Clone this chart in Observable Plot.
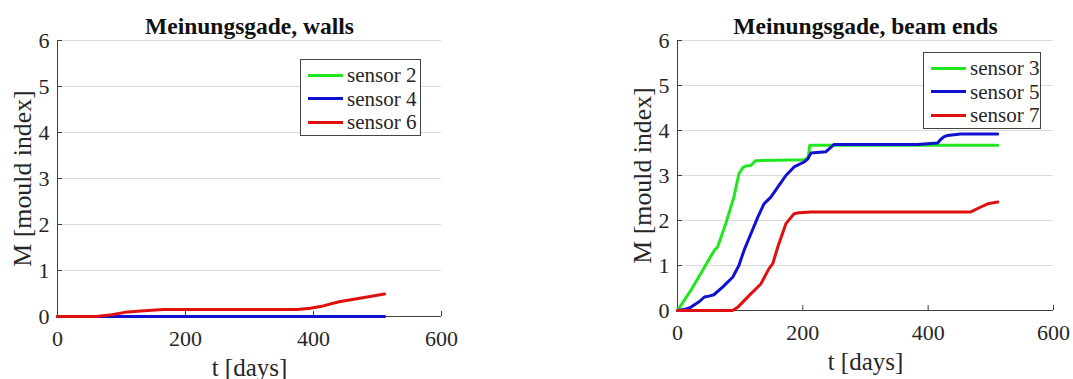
<!DOCTYPE html>
<html>
<head>
<meta charset="utf-8">
<script src="https://cdn.jsdelivr.net/npm/d3@7"></script>
<script src="https://cdn.jsdelivr.net/npm/@observablehq/plot@0.6"></script>
<style>
  html, body { margin: 0; padding: 0; background: #fff; }
  #wrap { position: relative; width: 1073px; height: 379px; overflow: hidden; background: #fff; font-family: "Liberation Serif", "Times New Roman", serif; }
  .panel { position: absolute; top: 0; }
  .legend { position: absolute; background: #fff; border: 1px solid #444; box-sizing: border-box; }
  .legend .row { position: absolute; left: 0; height: 24px; display: flex; align-items: center; }
  .legend .sw { width: 35px; height: 3px; margin-left: 7px; margin-right: 4px; }
  .legend .lbl { font-family: "Liberation Serif", serif; font-size: 21px; color: #262626; line-height: 24px; white-space: nowrap; }
</style>
</head>
<body>
<div id="wrap"></div>
<script>
// ---------- data ----------
const xTicks = [0, 200, 400, 600];
const yTicks = [0, 1, 2, 3, 4, 5, 6];
const titleWalls = "Meinungsgade, walls";
const titleBeams = "Meinungsgade, beam ends";
const xLabel = "t [days]";
const yLabel = "M [mould index]";

// walls
const s2Name = "sensor 2";
const s2T = [0, 511];
const s2M = [0, 0];
const s4Name = "sensor 4";
const s4T = [0, 511];
const s4M = [0, 0];
const s6Name = "sensor 6";
const s6T = [0, 60, 85, 105, 130, 165, 375, 395, 415, 440, 470, 511];
const s6M = [0, 0, 0.04, 0.09, 0.12, 0.15, 0.15, 0.18, 0.23, 0.32, 0.39, 0.49];

// beam ends
const s3Name = "sensor 3";
const s3T = [0, 21, 43, 55, 60, 64, 77, 90, 98, 104, 109, 117, 120, 125, 202, 208, 210, 211, 511];
const s3M = [0, 0.44, 0.96, 1.25, 1.36, 1.41, 1.93, 2.52, 3.04, 3.17, 3.21, 3.22, 3.27, 3.33, 3.35, 3.38, 3.55, 3.67, 3.67];
const s5Name = "sensor 5";
const s5T = [0, 10, 21, 35, 43, 50, 58, 72, 88, 98, 106, 117, 128, 138, 149, 160, 173, 186, 202, 208, 213, 237, 245, 250, 383, 415, 420, 425, 431, 452, 511];
const s5M = [0, 0.02, 0.07, 0.2, 0.30, 0.32, 0.35, 0.52, 0.74, 1.0, 1.33, 1.70, 2.07, 2.37, 2.52, 2.74, 3.0, 3.19, 3.30, 3.37, 3.50, 3.53, 3.63, 3.69, 3.69, 3.72, 3.80, 3.86, 3.89, 3.92, 3.92];
const s7Name = "sensor 7";
const s7T = [0, 88, 96, 117, 133, 146, 152, 160, 173, 186, 194, 213, 468, 484, 495, 511];
const s7M = [0, 0, 0.07, 0.37, 0.59, 0.93, 1.04, 1.41, 1.93, 2.15, 2.17, 2.19, 2.19, 2.30, 2.37, 2.41];

const green = "#1fe61f", blue = "#1010d0", red = "#e01010";
const serif = "'Liberation Serif', 'Times New Roman', serif";

const toRows = (T, M) => T.map((t, i) => ({t, m: M[i]}));

function panel({title, series, width, marginLeft, marginRight, marginTop, marginBottom}) {
  return Plot.plot({
    width, height: 379, marginLeft, marginRight, marginTop, marginBottom,
    style: {fontFamily: serif, fontSize: "22px", color: "#262626", background: "#fff", overflow: "visible"},
    x: {domain: [0, 600]},
    y: {domain: [0, 6]},
    marks: [
      Plot.gridY(yTicks, {stroke: "#dcdcdc", strokeOpacity: 1}),
      Plot.axisX(xTicks, {tickSize: 5, dy: -5, tickPadding: 14, label: null, stroke: "#404040", fontFamily: serif, fontSize: 22, fontVariant: "normal"}),
      Plot.axisY(yTicks, {tickSize: 5, dx: 5, tickPadding: 8, label: null, stroke: "#404040", fontFamily: serif, fontSize: 22, fontVariant: "normal"}),
      Plot.ruleX([0], {stroke: "#404040"}),
      Plot.ruleY([0], {stroke: "#404040"}),
      ...series.map(s => Plot.line(toRows(s.T, s.M), {x: "t", y: "m", stroke: s.color, strokeWidth: 3, curve: "linear"})),
      Plot.text([title], {frameAnchor: "top", dy: -7, lineAnchor: "bottom", fontWeight: "bold", fontSize: 23.5, fontFamily: serif, fill: "#111"}),
      Plot.text([xLabel], {frameAnchor: "bottom", dy: 51, lineAnchor: "middle", fontSize: 25, fontFamily: serif, fill: "#262626"}),
      Plot.text([yLabel], {frameAnchor: "left", dx: -35, rotate: -90, textAnchor: "middle", lineAnchor: "middle", fontSize: 25.8, fontFamily: serif, fill: "#262626"})
    ]
  });
}

function legend(series, left, top, w, h) {
  const d = document.createElement("div");
  d.className = "legend";
  Object.assign(d.style, {left: left + "px", top: top + "px", width: w + "px", height: h + "px"});
  series.forEach((s, i) => {
    const r = document.createElement("div");
    r.className = "row";
    r.style.top = (3 + i * 23.5) + "px";
    const sw = document.createElement("div");
    sw.className = "sw"; sw.style.background = s.color;
    const l = document.createElement("span");
    l.className = "lbl"; l.textContent = s.name;
    r.append(sw, l);
    d.append(r);
  });
  return d;
}

const wallSeries = [
  {name: s2Name, T: s2T, M: s2M, color: green},
  {name: s4Name, T: s4T, M: s4M, color: blue},
  {name: s6Name, T: s6T, M: s6M, color: red}
];
const beamSeries = [
  {name: s3Name, T: s3T, M: s3M, color: green},
  {name: s5Name, T: s5T, M: s5M, color: blue},
  {name: s7Name, T: s7T, M: s7M, color: red}
];

const wrap = document.getElementById("wrap");
const p1 = panel({title: titleWalls, series: wallSeries, width: 540, marginLeft: 57, marginRight: 99, marginTop: 40, marginBottom: 63});
p1.classList.add("panel"); p1.style.left = "0px";
const p2 = panel({title: titleBeams, series: beamSeries, width: 533, marginLeft: 137, marginRight: 20, marginTop: 40, marginBottom: 69});
p2.classList.add("panel"); p2.style.left = "540px";
wrap.append(p1, p2);
wrap.append(legend(wallSeries, 300, 59, 121, 77));
wrap.append(legend(beamSeries, 923, 52, 118, 77));
</script>
</body>
</html>
